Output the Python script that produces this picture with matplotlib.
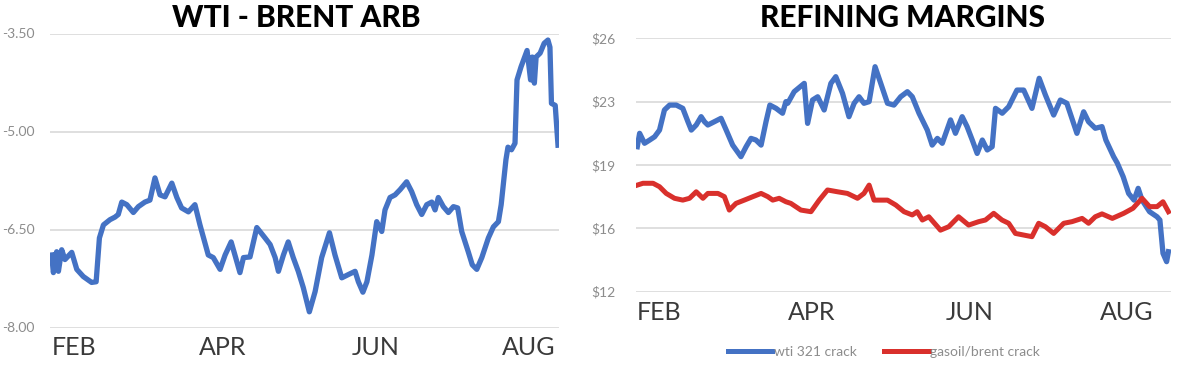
import matplotlib
matplotlib.use("Agg")
import matplotlib.pyplot as plt
from matplotlib.lines import Line2D

# ---------------- data ----------------
month_labels = ["FEB", "APR", "JUN", "AUG"]
month_days = [31, 90, 151, 212]          # day-of-year (Jan 1 = 0)

# WTI - Brent arb
arb_days = [22.1, 22.8, 24.1, 24.8, 26.1, 27.4, 30.1, 32.1, 34.7, 38.0,
            39.8, 41.1, 42.7, 45.3, 47.3, 48.6, 50.0, 52.0, 54.6, 56.6,
            59.2, 61.2, 63.2, 65.2, 67.2, 69.9, 71.9, 73.8, 76.5, 79.1,
            81.1, 84.4, 86.4, 89.1, 91.1, 93.5, 95.0, 97.0, 98.4, 101.0,
            103.7, 107.0, 109.0, 111.0, 112.3, 114.3, 116.2, 118.2, 120.2, 122.2,
            124.6, 126.9, 129.5, 132.6, 134.8, 137.5, 140.1, 142.8, 144.1, 145.9,
            147.5, 149.5, 151.4, 153.4, 154.7, 156.7, 158.7, 160.7, 163.3, 165.3,
            167.3, 169.3, 171.3, 173.3, 174.6, 175.9, 177.9, 179.9, 181.9, 183.6,
            185.2, 187.8, 189.4, 191.2, 193.2, 195.8, 197.8, 199.8, 200.9, 202.8,
            203.6, 205.0, 206.4, 207.2, 208.8, 211.2, 212.6, 213.3, 214.1, 214.8,
            216.4, 218.0, 219.5, 220.3, 220.9, 222.4, 223.5]
arb_values = [-6.89, -7.16, -6.84, -7.14, -6.81, -6.96, -6.85, -7.11, -7.22, -7.31,
              -7.30, -6.63, -6.43, -6.35, -6.31, -6.27, -6.08, -6.12, -6.24, -6.15,
              -6.08, -6.05, -5.71, -5.97, -6.00, -5.79, -6.01, -6.17, -6.23, -6.12,
              -6.43, -6.89, -6.93, -7.11, -6.89, -6.69, -6.89, -7.16, -6.93, -6.92,
              -6.47, -6.63, -6.73, -6.93, -7.14, -6.89, -6.69, -6.93, -7.14, -7.39,
              -7.76, -7.45, -6.93, -6.55, -6.89, -7.24, -7.19, -7.14, -7.30, -7.46,
              -7.30, -6.89, -6.38, -6.53, -6.20, -6.01, -5.97, -5.89, -5.77, -5.92,
              -6.12, -6.27, -6.12, -6.08, -6.20, -6.01, -6.15, -6.24, -6.15, -6.17,
              -6.53, -6.84, -7.04, -7.11, -6.93, -6.63, -6.46, -6.38, -6.12, -5.43,
              -5.24, -5.28, -5.18, -4.21, -4.01, -3.76, -4.21, -3.86, -4.26, -3.86,
              -3.80, -3.65, -3.60, -3.71, -4.57, -4.60, -5.21]
arb_ticks = [-8.0, -6.5, -5.0, -3.5]
arb_tick_labels = ["-8.00", "-6.50", "-5.00", "-3.50"]

# Refining margins
wti_days = [22.5, 23.4, 25.3, 27.3, 29.2, 31.1, 33.0, 35.0, 37.6, 40.1,
            42.1, 43.4, 45.3, 47.2, 48.5, 49.8, 52.3, 54.9, 56.9, 59.4,
            62.6, 64.6, 66.5, 68.4, 70.4, 72.3, 73.8, 76.2, 78.7, 80.0,
            80.7, 83.2, 87.1, 88.4, 90.3, 92.3, 94.8, 97.4, 99.3, 101.9,
            104.4, 106.4, 108.3, 110.2, 112.2, 114.5, 116.7, 119.3, 121.8, 124.4,
            127.0, 128.9, 131.5, 134.7, 136.6, 138.6, 140.5, 143.7, 145.6, 148.2,
            150.1, 152.1, 154.0, 156.0, 157.9, 159.8, 161.1, 163.7, 166.2, 169.4,
            172.0, 175.2, 178.0, 180.4, 183.6, 186.2, 188.7, 192.6, 195.2, 197.1,
            199.7, 202.3, 203.8, 206.8, 208.2, 210.5, 212.6, 214.7, 216.3, 217.8,
            220.7, 223.6, 224.7, 225.9, 227.3, 228.0]
wti_crack = [20.01, 20.75, 20.20, 20.38, 20.56, 20.93, 22.04, 22.31, 22.31, 22.13,
             21.39, 20.93, 21.21, 21.67, 21.39, 21.21, 21.39, 21.58, 20.93, 20.10,
             19.46, 20.01, 20.47, 20.38, 20.10, 21.39, 22.31, 22.13, 21.86, 22.50,
             22.41, 23.05, 23.51, 21.30, 22.59, 22.77, 22.04, 23.51, 23.88, 22.96,
             21.67, 22.41, 22.77, 22.41, 22.50, 24.43, 23.51, 22.41, 22.31, 22.77,
             23.05, 22.77, 21.86, 20.93, 20.10, 20.47, 20.20, 21.49, 20.75, 21.67,
             21.12, 20.38, 19.64, 20.38, 19.83, 20.01, 22.13, 21.86, 22.22, 23.14,
             23.14, 22.13, 23.79, 22.87, 21.76, 22.59, 22.41, 20.75, 21.94, 21.39,
             21.03, 21.12, 20.38, 19.46, 19.11, 18.35, 17.43, 17.06, 17.71, 17.06,
             16.42, 16.14, 15.96, 14.12, 13.66, 14.21]
gasoil_days = [22.5, 24.7, 28.6, 31.1, 33.7, 36.9, 40.1, 42.7, 45.3, 47.9,
               49.8, 53.7, 56.2, 58.1, 60.7, 63.9, 67.2, 70.4, 73.0, 74.9,
               77.4, 80.0, 81.9, 85.8, 89.7, 92.9, 96.1, 100.0, 103.8, 107.7,
               110.2, 112.2, 114.1, 116.7, 119.3, 122.5, 125.7, 128.9, 130.8, 132.8,
               135.3, 138.6, 139.8, 143.0, 146.8, 150.7, 154.6, 157.2, 160.4, 163.6,
               166.2, 168.8, 172.0, 175.2, 177.8, 180.4, 183.6, 187.5, 190.7, 194.6,
               197.1, 199.7, 202.3, 206.3, 210.7, 214.3, 217.8, 220.7, 223.6, 225.9,
               228.0]
gasoil_crack = [17.89, 17.99, 17.99, 17.80, 17.43, 17.16, 17.06, 17.16, 17.52, 17.16,
                17.43, 17.43, 17.25, 16.51, 16.88, 17.06, 17.25, 17.43, 17.25, 17.06,
                17.16, 16.97, 16.88, 16.51, 16.42, 17.06, 17.62, 17.52, 17.43, 17.16,
                17.43, 17.89, 17.06, 17.06, 17.06, 16.79, 16.42, 16.24, 16.42, 15.96,
                16.14, 15.60, 15.40, 15.59, 16.14, 15.68, 15.87, 15.96, 16.33, 15.96,
                15.78, 15.22, 15.13, 15.04, 15.78, 15.59, 15.22, 15.78, 15.87, 16.05,
                15.78, 16.14, 16.30, 16.05, 16.33, 16.61, 17.16, 16.70, 16.70, 16.97,
                16.42]
margin_ticks = [12, 15.5, 19, 22.5, 26]
margin_tick_labels = ["$12", "$16", "$19", "$23", "$26"]
series_names = ["wti 321 crack", "gasoil/brent crack"]

# ---------------- style ----------------
BLUE = "#4472C4"
RED = "#D9302C"
GRID = "#DCDCDC"
TICK = "#8C8C8C"
MONTH = "#3A3A3A"
FONT = ["Lato", "DejaVu Sans"]

W, H = 1200, 368
fig = plt.figure(figsize=(W / 100, H / 100), dpi=100)
fig.patch.set_facecolor("white")


def px_axes(x0, x1, ytop, ybot):
    return fig.add_axes([x0 / W, 1 - ybot / H, (x1 - x0) / W, (ybot - ytop) / H])


def style(ax, ticks, labels, ylim, xlim, ypad, xpad):
    ax.set_ylim(*ylim)
    ax.set_xlim(*xlim)
    ax.set_yticks(ticks)
    ax.set_yticklabels(labels, color=TICK, fontsize=10, family=FONT)
    ax.set_xticks(month_days)
    ax.set_xticklabels(month_labels, color=MONTH, fontsize=18, family=FONT)
    ax.tick_params(axis="y", length=0, pad=ypad)
    ax.tick_params(axis="x", length=0, pad=xpad)
    ax.grid(axis="y", color=GRID, linewidth=1.3)
    ax.set_axisbelow(True)
    for s in ax.spines.values():
        s.set_visible(False)


# Left chart
ax1 = px_axes(50, 559, 33.5, 327.5)
ax1.plot(arb_days, arb_values, color=BLUE, linewidth=3.8, solid_joinstyle="round")
style(ax1, arb_ticks, arb_tick_labels, (-8.0, -3.5), (21.45, 223.9), 11, 6)
fig.text(296 / W, 1 - 18 / H, "WTI - BRENT ARB", ha="center", va="center",
         fontsize=21.5, fontweight=900, family=FONT, color="black")

# Right chart
ax2 = px_axes(636, 1171, 38.3, 291.7)
ax2.plot(wti_days, wti_crack, color=BLUE, linewidth=3.8, solid_joinstyle="round")
ax2.plot(gasoil_days, gasoil_crack, color=RED, linewidth=3.6, solid_joinstyle="round")
style(ax2, margin_ticks, margin_tick_labels, (12, 26), (22.0, 229.0), 15, 7)
fig.text(903 / W, 1 - 18 / H, "REFINING MARGINS", ha="center", va="center",
         fontsize=21.5, fontweight=900, family=FONT, color="black")

handles = [Line2D([], [], color=BLUE, linewidth=3.6),
           Line2D([], [], color=RED, linewidth=3.6)]
leg = fig.legend(handles, series_names, loc="center", ncol=2,
                 bbox_to_anchor=(884 / W, 1 - 352 / H), frameon=False,
                 handlelength=3.2, handletextpad=0.1, columnspacing=2.0,
                 prop={"family": FONT, "size": 10})
for t in leg.get_texts():
    t.set_color("#8C8C8C")

fig.savefig("out.png", dpi=100, facecolor="white")
